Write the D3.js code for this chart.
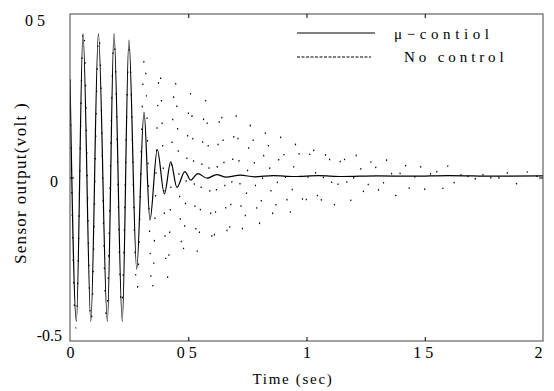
<!DOCTYPE html>
<html>
<head>
<meta charset="utf-8">
<script src="https://cdn.jsdelivr.net/npm/d3@7"></script>
<style>
  html, body { margin: 0; padding: 0; background: #fff; }
  svg { display: block; }
</style>
</head>
<body>
<svg id="chart" width="554" height="391"></svg>
<script>
// ---------- data ----------
const seriesNames = ["\u03bc\u2212contiol", "No control"];

const xTicks = [0, 0.5, 1, 1.5, 2];
const xTickLabels = ["0", "0 5", "1", "1 5", "2"];
const yTicks = [-0.5, 0, 0.5];
const yTickLabels = ["-0.5", "0", "0 5"];

// mu-control (solid): turning points
const muTime = [0, 0.027, 0.055, 0.088, 0.12, 0.158, 0.186, 0.221, 0.249, 0.282, 0.313, 0.338,
  0.369, 0.399, 0.426, 0.452, 0.486, 0.51, 0.54, 0.58, 0.62, 0.66, 0.72, 0.78, 0.86, 0.95,
  1.05, 1.15, 1.3, 1.45, 1.6, 1.8, 2.0];
const muValue = [0.30, -0.44, 0.44, -0.44, 0.44, -0.44, 0.44, -0.44, 0.42, -0.28, 0.20, -0.13,
  0.085, -0.05, 0.048, -0.03, 0.018, -0.008, 0.012, -0.002, 0.009, 0.001, 0.007, 0.002, 0.006, 0.003,
  0.006, 0.003, 0.005, 0.004, 0.006, 0.004, 0.005];

// no control (dotted): turning points
const ncTime = [0, 0.025, 0.057, 0.089, 0.122, 0.154, 0.186, 0.218, 0.250, 0.283, 0.315, 0.347,
  0.379, 0.411, 0.444, 0.476, 0.508, 0.540, 0.572, 0.605, 0.637, 0.669, 0.701, 0.733, 0.766,
  0.798, 0.830, 0.862, 0.894, 0.927, 0.959, 0.991, 1.023, 1.055, 1.088, 1.120, 1.152, 1.184,
  1.216, 1.249, 1.281, 1.313, 1.345, 1.377, 1.410, 1.442, 1.474, 1.506, 1.538, 1.571, 1.603,
  1.635, 1.667, 1.699, 1.732, 1.764, 1.796, 1.828, 1.860, 1.893, 1.925, 1.957, 1.989, 2.0];
const ncValue = [0.30, -0.46, 0.46, -0.45, 0.44, -0.43, 0.42, -0.40, 0.39, -0.35, 0.37, -0.35,
  0.33, -0.31, 0.30, -0.24, 0.26, -0.23, 0.24, -0.21, 0.21, -0.19, 0.19, -0.17, 0.17,
  -0.15, 0.15, -0.13, 0.13, -0.12, 0.12, -0.10, 0.11, -0.095, 0.095, -0.085, 0.085, -0.075,
  0.08, -0.065, 0.072, -0.06, 0.065, -0.055, 0.057, -0.048, 0.05, -0.045, 0.047, -0.04, 0.042,
  -0.036, 0.038, -0.032, 0.034, -0.028, 0.031, -0.025, 0.028, -0.022, 0.025, -0.02, 0.022, 0.0];

// ---------- drawing ----------
const FONT = '"Liberation Serif"';
const svg = d3.select("#chart");
const L = 70, R = 543, T = 14, B = 341;
const x = d3.scaleLinear().domain([0, 2]).range([L, R]);
const y = d3.scaleLinear().domain([-0.5, 0.5]).range([B, T]);

svg.append("defs").append("clipPath").attr("id", "clip")
  .append("rect").attr("x", L).attr("y", T).attr("width", R - L).attr("height", B - T);

const line = d3.line().x(d => x(d[0])).y(d => y(d[1])).curve(d3.curveMonotoneX);

const ncData = ncTime.map((t, i) => [t, ncValue[i]]);
const muData = muTime.map((t, i) => [t, muValue[i]]);

const plot = svg.append("g").attr("clip-path", "url(#clip)");
plot.append("path").datum(ncData).attr("d", line)
  .attr("fill", "none").attr("stroke", "#000").attr("stroke-width", 1.2)
  .attr("stroke-dasharray", "1.5,21");
plot.append("path").datum(muData).attr("d", line)
  .attr("fill", "none").attr("stroke", "#000").attr("stroke-width", 1.2);

// frame
svg.append("rect").attr("x", L).attr("y", T).attr("width", R - L).attr("height", B - T)
  .attr("fill", "none").attr("stroke", "#444").attr("stroke-width", 1);

// inward ticks
const inner = xTicks.slice(1, -1);
svg.append("g").attr("transform", `translate(0,${B})`)
  .call(d3.axisBottom(x).tickValues(inner).tickSize(-4).tickFormat(""))
  .call(g => g.select(".domain").remove());
svg.append("g").attr("transform", `translate(0,${T})`)
  .call(d3.axisTop(x).tickValues(inner).tickSize(-4).tickFormat(""))
  .call(g => g.select(".domain").remove());
svg.append("g").attr("transform", `translate(${L},0)`)
  .call(d3.axisLeft(y).tickValues([0]).tickSize(-4).tickFormat(""))
  .call(g => g.select(".domain").remove());
svg.append("g").attr("transform", `translate(${R},0)`)
  .call(d3.axisRight(y).tickValues([0]).tickSize(-4).tickFormat(""))
  .call(g => g.select(".domain").remove());

// tick labels
const xAx = svg.append("g").attr("transform", `translate(0,${B})`)
  .call(d3.axisBottom(x).tickValues(xTicks).tickSize(0).tickPadding(6)
    .tickFormat((d, i) => xTickLabels[i]))
  .call(g => g.select(".domain").remove())
  .attr("font-family", FONT).attr("font-size", 16);
xAx.selectAll("text").attr("dy", "0.71em").attr("y", 6);
xAx.selectAll(".tick").filter((d, i) => i === xTicks.length - 1).select("text").attr("dx", -5);
xAx.selectAll(".tick").filter((d, i) => i === 1 || i === 3).select("text").attr("dx", -2);

const yAx = svg.append("g").attr("transform", `translate(${L},0)`)
  .call(d3.axisLeft(y).tickValues(yTicks).tickSize(0).tickPadding(8)
    .tickFormat((d, i) => yTickLabels[i]))
  .call(g => g.select(".domain").remove())
  .attr("font-family", FONT).attr("font-size", 16);
yAx.selectAll(".tick").filter((d, i) => i === 0).select("text").attr("dy", "-0.05em");
yAx.selectAll(".tick").filter((d, i) => i === 1).select("text").attr("dx", -4).attr("dy", "0.55em");
yAx.selectAll(".tick").filter((d, i) => i === 2).select("text").attr("dx", -17).attr("dy", "0.7em");

// axis titles
svg.append("text").attr("x", 293).attr("y", 384).attr("text-anchor", "middle")
  .attr("font-family", FONT).attr("font-size", 15)
  .style("letter-spacing", "1.7px").text("Time  (sec)");
svg.append("text").attr("transform", "translate(26,183) rotate(-90)").attr("text-anchor", "middle")
  .attr("font-family", FONT).attr("font-size", 17)
  .style("letter-spacing", "1.3px").text("Sensor output(volt )");

// legend
const lg = svg.append("g").attr("font-family", FONT).attr("font-size", 15);
lg.append("line").attr("x1", 297).attr("x2", 375).attr("y1", 33).attr("y2", 33)
  .attr("stroke", "#000").attr("stroke-width", 1);
lg.append("line").attr("x1", 297).attr("x2", 371).attr("y1", 57).attr("y2", 57)
  .attr("stroke", "#000").attr("stroke-width", 1).attr("stroke-dasharray", "3,1.5");
lg.append("text").attr("x", 394).attr("y", 39)
  .style("letter-spacing", "4.6px").text(seriesNames[0]);
lg.append("text").attr("x", 404).attr("y", 62)
  .style("letter-spacing", "3.9px").text(seriesNames[1]);
</script>
</body>
</html>
